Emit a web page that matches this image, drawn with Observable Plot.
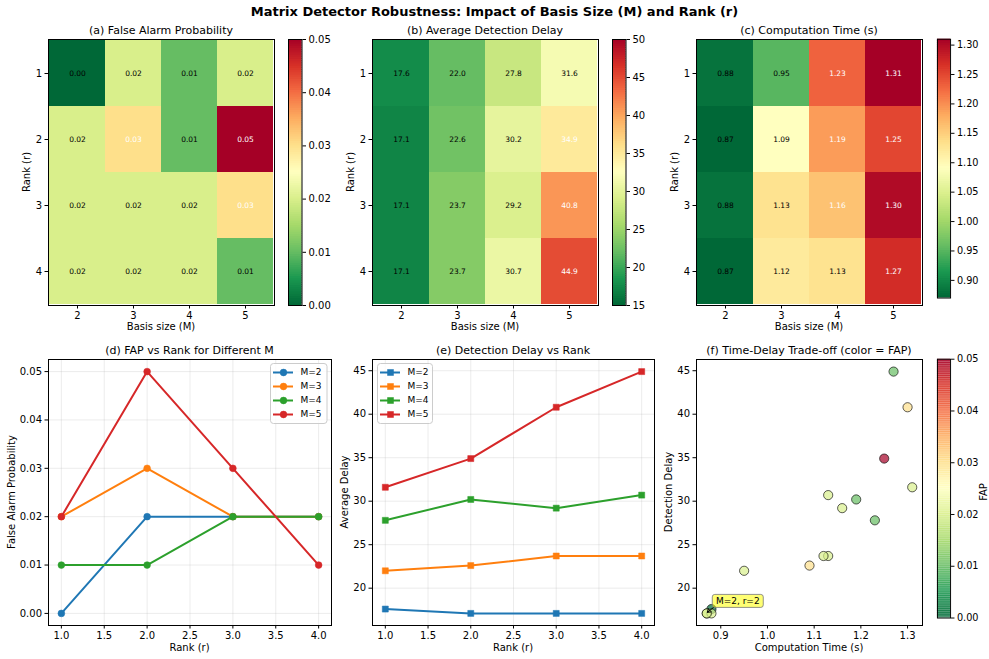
<!DOCTYPE html>
<html><head><meta charset="utf-8">
<script src="https://cdn.jsdelivr.net/npm/d3@7"></script>
<script src="https://cdn.jsdelivr.net/npm/@observablehq/plot@0.6"></script>
<style>
html,body{margin:0;padding:0;background:#fff;}
#fig{position:relative;width:989px;height:659px;overflow:hidden;background:#fff;font-family:"DejaVu Sans",sans-serif;color:#000}
.lbl{position:absolute;white-space:nowrap;line-height:1;}
</style></head><body><div id="fig"></div>
<script>
// ---------------- data ----------------
const basisSizes = [2, 3, 4, 5];          // M (columns)
const rankValues = [1, 2, 3, 4];          // r (rows)
// rows = rank r=1..4, columns = M=2..5
const fapMatrix = [
  [0.00, 0.02, 0.01, 0.02],
  [0.02, 0.03, 0.01, 0.05],
  [0.02, 0.02, 0.02, 0.03],
  [0.02, 0.02, 0.02, 0.01]
];
const delayMatrix = [
  [17.6, 22.0, 27.8, 31.6],
  [17.1, 22.6, 30.2, 34.9],
  [17.1, 23.7, 29.2, 40.8],
  [17.1, 23.7, 30.7, 44.9]
];
const timeMatrix = [
  [0.88, 0.95, 1.23, 1.31],
  [0.87, 1.09, 1.19, 1.25],
  [0.88, 1.13, 1.16, 1.30],
  [0.87, 1.12, 1.13, 1.27]
];
const fapTicks = [0, 0.01, 0.02, 0.03, 0.04, 0.05];
const delayCbarTicks = [15, 20, 25, 30, 35, 40, 45, 50];
const timeCbarTicks = [0.90, 0.95, 1.00, 1.05, 1.10, 1.15, 1.20, 1.25, 1.30];
const rankTicks = [1.0, 1.5, 2.0, 2.5, 3.0, 3.5, 4.0];
const delayTicks = [20, 25, 30, 35, 40, 45];
const timeTicks = [0.9, 1.0, 1.1, 1.2, 1.3];
const seriesColors = ["#1f77b4", "#ff7f0e", "#2ca02c", "#d62728"];
const annotation = {M: 2, r: 2, text: "M=2, r=2"};

const mainTitle = "Matrix Detector Robustness: Impact of Basis Size (M) and Rank (r)";
const titles = ["(a) False Alarm Probability", "(b) Average Detection Delay", "(c) Computation Time (s)",
  "(d) FAP vs Rank for Different M", "(e) Detection Delay vs Rank", "(f) Time-Delay Trade-off (color = FAP)"];

// ---------------- helpers ----------------
const fig = document.getElementById("fig");
const FONT = "DejaVu Sans";
const baseStyle = {fontFamily: FONT, fontSize: "10px", color: "#000", background: "transparent", overflow: "visible"};
const M = {l: 45, r: 12, t: 10, b: 25};

function place(node, left, top) {
  const d = document.createElement("div");
  d.style.position = "absolute"; d.style.left = left + "px"; d.style.top = top + "px";
  d.appendChild(node); fig.appendChild(d); return node;
}
function label(text, cx, cy, {size = 10, weight = "normal", rotate = false} = {}) {
  const d = document.createElement("div");
  d.className = "lbl"; d.textContent = text;
  d.style.left = cx + "px"; d.style.top = cy + "px";
  d.style.fontSize = size + "px"; d.style.fontWeight = weight;
  d.style.transform = "translate(-50%,-50%)" + (rotate ? " rotate(-90deg)" : "");
  fig.appendChild(d);
}
function cmap([lo, hi]) {
  return {type: "linear", domain: d3.range(11).map(i => lo + (hi - lo) * i / 10),
          range: d3.schemeRdYlGn[11].slice().reverse(), interpolate: "rgb"};
}
function dims([x0, x1, y0, y1], m = M) {
  return {width: x1 - x0 + m.l + m.r, height: y1 - y0 + m.t + m.b,
          marginLeft: m.l, marginRight: m.r, marginTop: m.t, marginBottom: m.b,
          left: x0 - m.l, top: y0 - m.t};
}
const axisStyle = {tickSize: 3.5, tickPadding: 3, label: null};

function heatmap(frame, matrix, cdomain, thresh, fmt) {
  const cells = rankValues.flatMap((r, i) => basisSizes.map((m, j) => ({M: m, r, v: matrix[i][j]})));
  const g = dims(frame);
  const chart = Plot.plot({
    width: g.width, height: g.height, marginLeft: g.marginLeft, marginRight: g.marginRight,
    marginTop: g.marginTop, marginBottom: g.marginBottom, style: baseStyle,
    x: {type: "band", domain: basisSizes, padding: 0, ...axisStyle},
    y: {type: "band", domain: rankValues, padding: 0, ...axisStyle},
    color: cmap(cdomain),
    marks: [
      Plot.cell(cells, {x: "M", y: "r", fill: "v", inset: 0}),
      Plot.text(cells.filter(d => d.v <= thresh), {x: "M", y: "r", text: d => fmt(d.v), fill: "black", fontSize: 7.5}),
      Plot.text(cells.filter(d => d.v > thresh), {x: "M", y: "r", text: d => fmt(d.v), fill: "white", fontSize: 7.5}),
      Plot.frame({stroke: "#000", strokeWidth: 1})
    ]
  });
  place(chart, g.left, g.top);
}

function colorbar(frame, cdomain, ticks, fmt, opacity) {
  const [lo, hi] = cdomain, N = 120;
  const step = (hi - lo) / N;
  const g = dims(frame, {l: 2, r: 40, t: 10, b: 10});
  const chart = Plot.plot({
    width: g.width, height: g.height, marginLeft: g.marginLeft, marginRight: g.marginRight,
    marginTop: g.marginTop, marginBottom: g.marginBottom, style: baseStyle,
    x: {domain: [0, 1], axis: null},
    y: {domain: [lo, hi], axis: "right", ticks, tickFormat: fmt, ...axisStyle},
    color: cmap(cdomain),
    marks: [
      Plot.rect(d3.range(N), {x1: 0, x2: 1, y1: i => lo + step * i, y2: i => Math.min(hi, lo + step * (i + 1.5)),
        fill: i => lo + step * (i + 0.5), fillOpacity: opacity}),
      Plot.frame({stroke: "#000", strokeWidth: 1})
    ]
  });
  place(chart, g.left, g.top);
}

function lineSeries(matrix) {
  return basisSizes.map((m, j) => ({label: `M=${m}`, color: seriesColors[j],
    pts: rankValues.map((r, i) => ({r, v: matrix[i][j]}))}));
}

function linePanel(frame, series, xdom, ydom, yticks, yfmt, symbol) {
  const g = dims(frame);
  const chart = Plot.plot({
    width: g.width, height: g.height, marginLeft: g.marginLeft, marginRight: g.marginRight,
    marginTop: g.marginTop, marginBottom: g.marginBottom, style: baseStyle,
    x: {domain: xdom, ticks: rankTicks, tickFormat: d3.format(".1f"), ...axisStyle},
    y: {domain: ydom, ticks: yticks, tickFormat: yfmt, ...axisStyle},
    marks: [
      Plot.gridX(rankTicks, {stroke: "#b0b0b0", strokeOpacity: 0.3, strokeWidth: 0.8}),
      Plot.gridY(yticks, {stroke: "#b0b0b0", strokeOpacity: 0.3, strokeWidth: 0.8}),
      ...series.flatMap(s => [
        Plot.line(s.pts, {x: "r", y: "v", stroke: s.color, strokeWidth: 2}),
        Plot.dot(s.pts, {x: "r", y: "v", fill: s.color, stroke: s.color, strokeWidth: 0.5, r: 3.4, symbol})
      ]),
      Plot.frame({stroke: "#000", strokeWidth: 1})
    ]
  });
  place(chart, g.left, g.top);
}

function legendBox([x0, x1, y0, y1], series, symbol) {
  const w = x1 - x0, h = y1 - y0;
  const chart = Plot.plot({
    width: w, height: h, margin: 0, style: {...baseStyle, fontSize: "9px"},
    x: {type: "identity", axis: null},
    y: {type: "point", domain: series.map(s => s.label), range: [8.7, h - 8.7], padding: 0, axis: null},
    marks: [
      Plot.frame({fill: "white", fillOpacity: 0.8, stroke: "#cccccc", strokeWidth: 1, rx: 3}),
      Plot.ruleY(series, {y: "label", x1: 3, x2: 23, stroke: "color", strokeWidth: 2}),
      Plot.dot(series, {x: 13, y: "label", fill: "color", stroke: "color", strokeWidth: 0.5, r: 3.4, symbol}),
      Plot.text(series, {x: 30, y: "label", text: "label", textAnchor: "start", fontSize: 9, fill: "#000"})
    ]
  });
  place(chart, x0, y0);
}

// ---------------- top row ----------------
const fapDomain = [0, 0.05], delayDomain = [15, 50];
const timeDomain = [d3.min(timeMatrix.flat()), d3.max(timeMatrix.flat())];

heatmap([48, 274, 39, 305], fapMatrix, fapDomain, 0.025, d3.format(".2f"));
colorbar([288, 301.5, 39, 305], fapDomain, fapTicks, d3.format(".2f"), 1);
heatmap([372, 598, 39, 305], delayMatrix, delayDomain, 32.5, d3.format(".1f"));
colorbar([612, 625.5, 39, 305], delayDomain, delayCbarTicks, d3.format("d"), 1);
heatmap([696, 922, 39, 305], timeMatrix, timeDomain, 1.145, d3.format(".2f"));
colorbar([937, 950.5, 39, 305], timeDomain, timeCbarTicks, d3.format(".2f"), 1);

// ---------------- bottom row ----------------
const fapSeries = lineSeries(fapMatrix);
const delaySeries = lineSeries(delayMatrix);
const delayAll = delayMatrix.flat(), timeAll = timeMatrix.flat();
function padded([lo, hi]) { const p = (hi - lo) * 0.05; return [lo - p, hi + p]; }
const rankDom = padded(d3.extent(rankValues));
const fapDom = padded(d3.extent(fapMatrix.flat()));
const delayDom = padded(d3.extent(delayAll));
const timeDom = padded(d3.extent(timeAll));

linePanel([48, 331, 359, 625], fapSeries, rankDom, fapDom, fapTicks, d3.format(".2f"), "circle");
legendBox([270, 326.5, 363.3, 423.3], fapSeries, "circle");
linePanel([372, 654, 359, 625], delaySeries, rankDom, delayDom, delayTicks, d3.format("d"), "square");
legendBox([376.7, 431.7, 363.3, 423.3], delaySeries, "square");

// scatter (f)
const pts = basisSizes.flatMap((m, j) => rankValues.map((r, i) => ({M: m, r, t: timeMatrix[i][j], d: delayMatrix[i][j], f: fapMatrix[i][j]})));
{
  const g = dims([696, 922, 359, 625]);
  const chart = Plot.plot({
    width: g.width, height: g.height, marginLeft: g.marginLeft, marginRight: g.marginRight,
    marginTop: g.marginTop, marginBottom: g.marginBottom, style: baseStyle,
    x: {domain: timeDom, ticks: timeTicks, tickFormat: d3.format(".1f"), ...axisStyle},
    y: {domain: delayDom, ticks: delayTicks, tickFormat: d3.format("d"), ...axisStyle},
    color: cmap(fapDomain),
    marks: [
      Plot.dot(pts, {x: "t", y: "d", fill: "f", fillOpacity: 0.7, stroke: "#000", strokeOpacity: 0.7, strokeWidth: 0.9, r: 4.6}),
      Plot.frame({stroke: "#000", strokeWidth: 1})
    ]
  });
  place(chart, g.left, g.top);
  // annotation pointing at M=2, r=2
  const j = basisSizes.indexOf(annotation.M), i = rankValues.indexOf(annotation.r);
  const px = chart.scale("x").apply(timeMatrix[i][j]);
  const py = chart.scale("y").apply(delayMatrix[i][j]);
  const svg = d3.select(chart);
  const gA = svg.append("g");
  gA.append("line").attr("x1", px + 8).attr("y1", py - 6).attr("x2", px + 1).attr("y2", py - 0.5)
    .attr("stroke", "#000").attr("stroke-width", 1);
  gA.append("path").attr("d", `M${px + 1},${py - 0.5} l4.2,-0.6 M${px + 1},${py - 0.5} l1.3,-4`)
    .attr("stroke", "#000").attr("stroke-width", 1).attr("fill", "none");
  gA.append("rect").attr("x", px + 6).attr("y", py - 18.5).attr("width", 51).attr("height", 13)
    .attr("rx", 2.5).attr("fill", "#ffff00").attr("fill-opacity", 0.55).attr("stroke", "#777").attr("stroke-width", 0.8);
  gA.append("text").attr("x", px + 31.5).attr("y", py - 8.6).attr("text-anchor", "middle")
    .attr("font-size", 9).attr("font-family", FONT).attr("fill", "#000").text(annotation.text);
}
colorbar([937, 950.5, 359, 625], fapDomain, fapTicks, d3.format(".2f"), 0.7);

// ---------------- texts ----------------
label(mainTitle, 494.5, 11, {size: 13, weight: "bold"});
[[161, 30], [485, 30], [809, 30], [189.5, 350], [513, 350], [809, 350]].forEach(([x, y], k) => label(titles[k], x, y, {size: 11}));
[161, 485, 809].forEach(x => label("Basis size (M)", x, 327));
[26.5, 350.5, 675].forEach(x => label("Rank (r)", x, 172, {rotate: true}));
label("Rank (r)", 189.5, 648); label("Rank (r)", 513, 648);
label("Computation Time (s)", 809, 648);
label("False Alarm Probability", 12, 492, {rotate: true});
label("Average Delay", 345, 492, {rotate: true});
label("Detection Delay", 669, 492, {rotate: true});
label("FAP", 984, 492, {rotate: true});
</script></body></html>
